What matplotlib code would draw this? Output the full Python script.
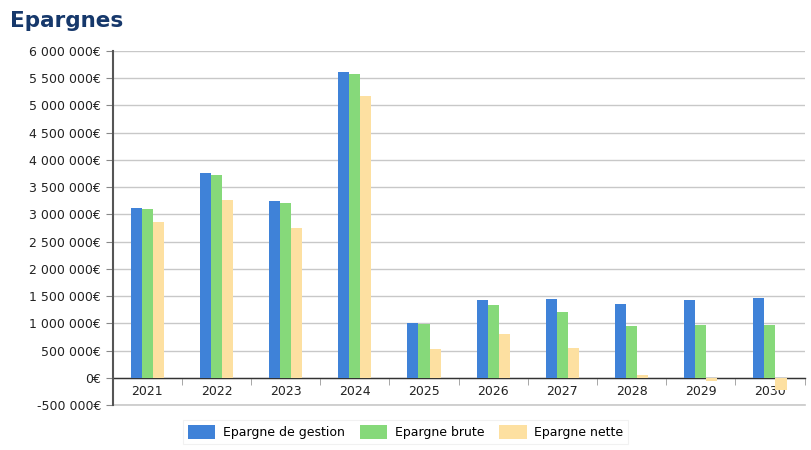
import numpy as np
import matplotlib.pyplot as plt
from matplotlib.ticker import FixedLocator, FuncFormatter

# ===================== Data =====================
YEARS = ["2021", "2022", "2023", "2024", "2025", "2026", "2027", "2028", "2029", "2030"]
SERIES_NAMES = ["Epargne de gestion", "Epargne brute", "Epargne nette"]
EPARGNE_GESTION = [3110000, 3760000, 3240000, 5610000, 1000000, 1425000, 1440000, 1360000, 1420000, 1460000]
EPARGNE_BRUTE = [3090000, 3720000, 3200000, 5580000, 980000, 1330000, 1200000, 950000, 970000, 960000]
EPARGNE_NETTE = [2850000, 3270000, 2750000, 5170000, 530000, 810000, 540000, 50000, -60000, -220000]
Y_TICKS = list(range(-500000, 6000001, 500000))

COLORS = ["#3f82d8", "#86d97a", "#fde0a1"]
TITLE_COLOR = "#16386b"


def fmt_euro(v, pos=None):
    s = f"{int(v):,}".replace(",", " ")
    return s + "€"


def main():
    fig = plt.figure(figsize=(8.11, 4.5), dpi=100)
    ax = fig.add_axes([0.139, 0.1, 0.853, 0.787])

    x = np.arange(len(YEARS))
    w = 0.16
    for i, (vals, name) in enumerate(zip([EPARGNE_GESTION, EPARGNE_BRUTE, EPARGNE_NETTE], SERIES_NAMES)):
        ax.bar(x + (i - 1) * w, vals, width=w, color=COLORS[i], label=name, zorder=3)

    ax.set_xlim(-0.5, len(YEARS) - 0.5)
    ax.set_ylim(-500000, 6000000)
    ax.yaxis.set_major_locator(FixedLocator(Y_TICKS))
    ax.yaxis.set_major_formatter(FuncFormatter(fmt_euro))
    ax.grid(axis="y", color="#c8c8c8", linewidth=1, zorder=0)
    # bottom gridline sits on the axes edge, draw it unclipped
    ax.axhline(-500000, color="#c8c8c8", linewidth=1.2, clip_on=False, zorder=1)

    # x axis at zero
    ax.spines["bottom"].set_position(("data", 0))
    ax.spines["bottom"].set_color("#333333")
    ax.spines["bottom"].set_linewidth(1.0)
    ax.spines["bottom"].set_zorder(2)
    ax.spines["left"].set_color("#555555")
    ax.spines["left"].set_linewidth(1.5)
    ax.spines["top"].set_visible(False)
    ax.spines["right"].set_visible(False)

    ax.set_xticks(x)
    ax.set_xticklabels(YEARS)
    ax.set_xticks(np.arange(-0.5, len(YEARS)), minor=True)
    ax.tick_params(axis="x", which="major", length=0, pad=5, labelsize=9, colors="#222222")
    ax.tick_params(axis="x", which="minor", length=5, color="#999999")
    ax.tick_params(axis="y", length=5, color="#888888", labelsize=9, labelcolor="#222222")

    fig.text(0.012, 0.953, "Epargnes", fontsize=15.5, fontweight="bold", color=TITLE_COLOR, va="center")

    leg = fig.legend(loc="center", bbox_to_anchor=(0.5, 0.04), ncol=3, fontsize=9,
                     frameon=True, handlelength=2.2, handleheight=1.3, columnspacing=1.2,
                     handletextpad=0.6, borderpad=0.4, fancybox=False)
    leg.get_frame().set_edgecolor("#eeeeee")
    leg.get_frame().set_linewidth(0.8)

    fig.savefig("out.png", dpi=100)
    plt.close(fig)


if __name__ == "__main__":
    main()
